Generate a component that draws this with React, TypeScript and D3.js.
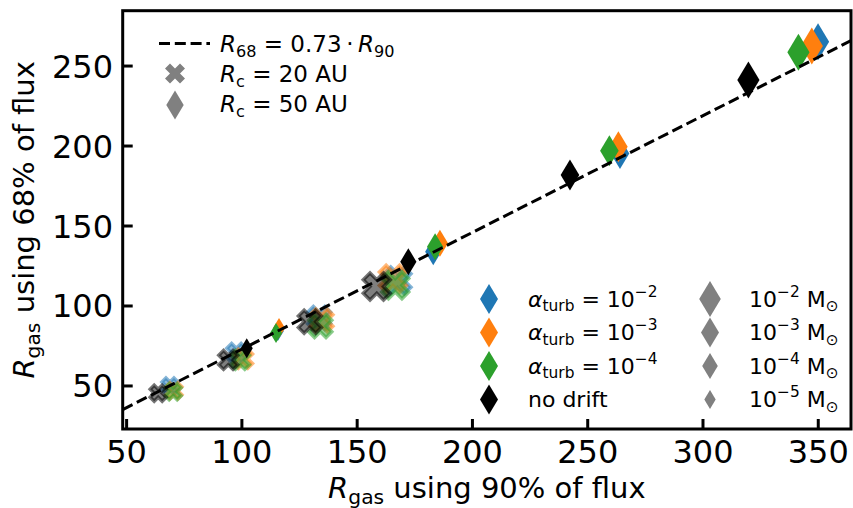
import React from 'react';
import * as d3 from 'd3';

// ---------- data ----------
const alphaCases = ['1e-2', '1e-3', '1e-4', 'no drift'];
const massCases = ['1e-5', '1e-4', '1e-3', '1e-2'];
const xTicks = [50, 100, 150, 200, 250, 300, 350];
const yTicks = [50, 100, 150, 200, 250];
const lineSlope = 0.73;

// Rc = 20 AU (x markers), one value per disc mass (1e-5 .. 1e-2)
const rc20_r90_a2 = [68.8, 97.6, 133.5, 167.5];
const rc20_r68_a2 = [50.0, 70.6, 92.5, 116.0];
const rc20_r90_a3 = [70.5, 100.5, 134.5, 165.5];
const rc20_r68_a3 = [47.0, 67.0, 91.0, 117.0];
const rc20_r90_a4 = [70.2, 99.2, 134.0, 166.5];
const rc20_r68_a4 = [46.4, 66.3, 87.5, 113.0];
const rc20_r90_nd = [63.7, 94.1, 129.5, 158.5];
const rc20_r68_nd = [45.4, 66.3, 90.2, 112.2];

// Rc = 50 AU (diamonds)
const rc50_r90_a2 = [115.6, 183.0, 264.0, 349.9];
const rc50_r68_a2 = [84.4, 133.9, 195.4, 265.2];
const rc50_r90_a3 = [116.1, 185.9, 263.3, 347.2];
const rc50_r68_a3 = [86.3, 139.2, 199.6, 262.5];
const rc50_r90_a4 = [114.8, 183.8, 259.4, 341.4];
const rc50_r68_a4 = [83.1, 137.1, 197.1, 258.6];
const rc50_r90_nd = [102.1, 172.2, 242.3, 319.7];
const rc50_r68_nd = [73.6, 127.7, 181.9, 241.3];

const rc20_r90 = [rc20_r90_a2, rc20_r90_a3, rc20_r90_a4, rc20_r90_nd];
const rc20_r68 = [rc20_r68_a2, rc20_r68_a3, rc20_r68_a4, rc20_r68_nd];
const rc50_r90 = [rc50_r90_a2, rc50_r90_a3, rc50_r90_a4, rc50_r90_nd];
const rc50_r68 = [rc50_r68_a2, rc50_r68_a3, rc50_r68_a4, rc50_r68_nd];

// ---------- layout / style ----------
const W = 853, H = 508;
const L = 122.7, R = 851, T = 10.7, B = 429;
const FONT = 'DejaVu Sans, sans-serif';
const colorScale = d3.scaleOrdinal<string, string>().domain(alphaCases).range(['#1f77b4', '#ff7f0e', '#2ca02c', '#000000']);
const diamondSize = d3.scaleOrdinal<string, number>().domain(massCases).range([20, 27, 31, 37]);
const xSize = d3.scaleOrdinal<string, number>().domain(massCases).range([16, 19, 23, 27]);

function diamondPath(h: number) {
  const w = h * 0.6;
  return `M0,${-h / 2}L${w / 2},0L0,${h / 2}L${-w / 2},0Z`;
}
function xPath(s: number) {
  const v = [[-1, -2], [0, -1], [1, -2], [2, -1], [1, 0], [2, 1], [1, 2], [0, 1], [-1, 2], [-2, 1], [-1, 0], [-2, -1]];
  return 'M' + v.map(([a, b]) => `${(a / 4) * s},${(b / 4) * s}`).join('L') + 'Z';
}

type Part = { t: string; it?: boolean; sub?: boolean; sup?: boolean };
function MathText({ x, y, fs, parts, anchor = 'start', transform }: { x: number; y: number; fs: number; parts: Part[]; anchor?: string; transform?: string }) {
  let cur = 0;
  return (
    <text x={x} y={y} fontSize={fs} textAnchor={anchor} transform={transform} fontFamily={FONT} fill="#000" style={{ whiteSpace: 'pre' }}>
      {parts.map((p, i) => {
        const target = p.sub ? fs * 0.22 : p.sup ? -fs * 0.45 : 0;
        const dy = target - cur;
        cur = target;
        return (
          <tspan key={i} dy={dy} fontStyle={p.it ? 'italic' : 'normal'} fontSize={p.sub || p.sup ? fs * 0.7 : fs}>
            {p.t}
          </tspan>
        );
      })}
    </text>
  );
}

export default function App() {
  const x = d3.scaleLinear().domain([48.3, 364.2]).range([L, R]);
  const y = d3.scaleLinear().domain([23.1, 284.6]).range([B, T]);
  const xd = x.domain();
  const lineGen = d3.line<number>().x((d) => x(d)).y((d) => y(d * lineSlope));

  const marks: React.ReactNode[] = [];
  alphaCases.forEach((a, ai) => {
    massCases.forEach((m, mi) => {
      const c = colorScale(a);
      marks.push(
        <path key={`x-${ai}-${mi}`} d={xPath(xSize(m))} transform={`translate(${x(rc20_r90[ai][mi])},${y(rc20_r68[ai][mi])})`}
          fill={c} fillOpacity={0.5} stroke={c} strokeOpacity={0.55} strokeWidth={3.5} strokeLinejoin="miter" />
      );
    });
    massCases.forEach((m, mi) => {
      const c = colorScale(a);
      marks.push(
        <path key={`d-${ai}-${mi}`} d={diamondPath(diamondSize(m))} transform={`translate(${x(rc50_r90[ai][mi])},${y(rc50_r68[ai][mi])})`} fill={c} />
      );
    });
  });

  const tickFs = 32;
  const legFs = 22;
  const leg1Fs = 23;
  const leg2Rows = [299, 332.5, 366, 399.5];
  const alphaLabels: Part[][] = [
    [{ t: 'α', it: true }, { t: 'turb', sub: true }, { t: ' = 10' }, { t: '−2', sup: true }],
    [{ t: 'α', it: true }, { t: 'turb', sub: true }, { t: ' = 10' }, { t: '−3', sup: true }],
    [{ t: 'α', it: true }, { t: 'turb', sub: true }, { t: ' = 10' }, { t: '−4', sup: true }],
    [{ t: 'no drift' }],
  ];
  const massLabels: Part[][] = ['−2', '−3', '−4', '−5'].map((e) => [{ t: '10' }, { t: e, sup: true }, { t: ' M' }, { t: '⊙', sub: true }]);

  return (
    <svg width={W} height={H} style={{ position: 'absolute', left: 0, top: 0 }} fontFamily={FONT}>
      <rect x={0} y={0} width={W} height={H} fill="#fff" />
      <defs>
        <clipPath id="plot">
          <rect x={L} y={T} width={R - L} height={B - T} />
        </clipPath>
      </defs>
      <g clipPath="url(#plot)">
        {marks}
        <path d={lineGen(xd) || ''} fill="none" stroke="#000" strokeWidth={3} strokeDasharray="11,4.8" />
      </g>
      {/* ticks */}
      {xTicks.map((t) => (
        <g key={`xt${t}`}>
          <line x1={x(t)} x2={x(t)} y1={B} y2={B - 10} stroke="#000" strokeWidth={3} />
          <text x={x(t)} y={463} fontSize={tickFs} textAnchor="middle" fontFamily={FONT}>{t}</text>
        </g>
      ))}
      {yTicks.map((t) => (
        <g key={`yt${t}`}>
          <line x1={L} x2={L + 10} y1={y(t)} y2={y(t)} stroke="#000" strokeWidth={3} />
          <text x={113} y={y(t) + 11.5} fontSize={tickFs} textAnchor="end" fontFamily={FONT}>{t}</text>
        </g>
      ))}
      <rect x={L} y={T} width={R - L} height={B - T} fill="none" stroke="#000" strokeWidth={3} />
      {/* axis labels */}
      <MathText x={(L + R) / 2} y={498} fs={29} anchor="middle"
        parts={[{ t: 'R', it: true }, { t: 'gas', sub: true }, { t: ' using 90% of flux' }]} />
      <MathText x={0} y={0} fs={29} anchor="middle" transform={`translate(33.5,${(T + B) / 2}) rotate(-90)`}
        parts={[{ t: 'R', it: true }, { t: 'gas', sub: true }, { t: ' using 68% of flux' }]} />
      {/* legend 1 */}
      <line x1={159} x2={210} y1={43.5} y2={43.5} stroke="#000" strokeWidth={3} strokeDasharray="11,4.8" />
      <MathText x={220} y={51.7} fs={leg1Fs}
        parts={[{ t: 'R', it: true }, { t: '68', sub: true }, { t: ' = 0.73\u2009·\u2009' }, { t: 'R', it: true }, { t: '90', sub: true }]} />
      <path d={xPath(20)} transform="translate(175,73.5)" fill="#808080" />
      <MathText x={220} y={81.7} fs={leg1Fs} parts={[{ t: 'R', it: true }, { t: 'c', sub: true }, { t: ' = 20 AU' }]} />
      <path d={diamondPath(29)} transform="translate(175,105)" fill="#808080" />
      <MathText x={220} y={111.7} fs={leg1Fs} parts={[{ t: 'R', it: true }, { t: 'c', sub: true }, { t: ' = 50 AU' }]} />
      {/* legend 2 */}
      {alphaCases.map((a, i) => (
        <g key={`la${a}`}>
          <path d={diamondPath(30)} transform={`translate(489,${leg2Rows[i]})`} fill={colorScale(a)} />
          <MathText x={528} y={leg2Rows[i] + 7.5} fs={legFs} parts={alphaLabels[i]} />
        </g>
      ))}
      {[...massCases].reverse().map((m, i) => (
        <g key={`lm${m}`}>
          <path d={diamondPath(diamondSize(m) - 1)} transform={`translate(710,${leg2Rows[i]})`} fill="#808080" />
          <MathText x={749} y={leg2Rows[i] + 7.5} fs={legFs} parts={massLabels[i]} />
        </g>
      ))}
    </svg>
  );
}
